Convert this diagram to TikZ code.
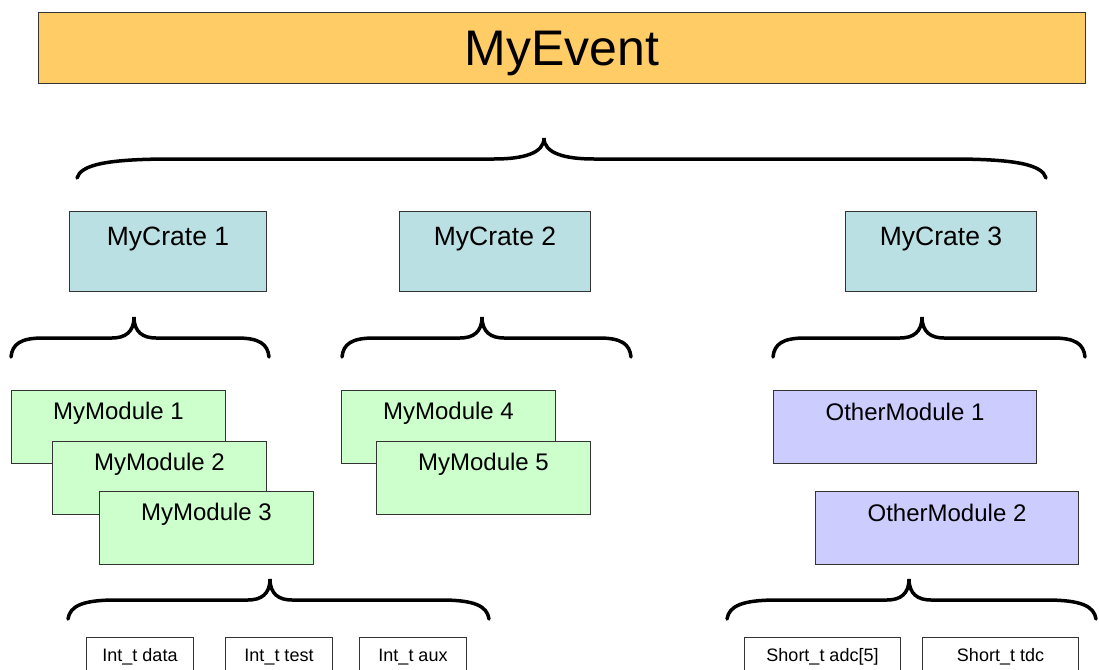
\documentclass[tikz,border=0pt]{standalone}
\usepackage{fontspec}
\setmainfont{Liberation Sans}
\usepackage{xcolor}
\usepackage{tikz}
\definecolor{eventorange}{HTML}{FFCC66}
\definecolor{cratecyan}{HTML}{BBE0E3}
\definecolor{modgreen}{HTML}{CCFFCC}
\definecolor{modviolet}{HTML}{CCCCFF}
\tikzset{
  box/.style={rectangle, draw=black!80, line width=1pt, inner sep=0pt,
              anchor=north west, align=center},
  eventbox/.style={box, fill=eventorange, font=\fontsize{50}{50}\selectfont,
                   minimum width=1047pt, text height=53pt, text depth=18pt},
  cratebox/.style={box, fill=cratecyan, font=\fontsize{26.5}{26.5}\selectfont,
                   text height=34pt, text depth=46pt},
  modbox/.style={box, fill=modgreen, font=\fontsize{24}{24}\selectfont,
                 minimum width=214pt, text height=29pt, text depth=44pt},
  otherbox/.style={box, fill=modviolet, font=\fontsize{24}{24}\selectfont,
                   minimum width=263pt, text height=30pt, text depth=43pt},
  fieldbox/.style={box, fill=white, font=\fontsize{18}{18}\selectfont,
                   text height=24pt, text depth=26pt},
  brace/.style={draw=black, line width=3.5pt, line cap=round},
}
% #1 left end, #2 tip, #3 right end, #4 tip y, #5 end curl, #6 tip curl
\newcommand{\curlybrace}[6]{%
  \draw[brace] ({#1},{#4+40}) .. controls ({#1+0.04*#5},{#4+27}) and ({#1+0.3*#5},{#4+21}) .. ({#1+#5},{#4+21})
    -- ({#2-#6},{#4+21}) .. controls ({#2-0.4*#6},{#4+21}) and ({#2},{#4+15}) .. ({#2},{#4})
    .. controls ({#2},{#4+15}) and ({#2+0.4*#6},{#4+21}) .. ({#2+#6},{#4+21})
    -- ({#3-#5},{#4+21}) .. controls ({#3-0.3*#5},{#4+21}) and ({#3-0.04*#5},{#4+27}) .. ({#3},{#4+40});}

\begin{document}
\begin{tikzpicture}[x=1pt, y=-1pt]
  \useasboundingbox (0,0) rectangle (1099,669);
  \clip (0,0) rectangle (1099,669);

  % event
  \node[eventbox] (event) at (38,12) {MyEvent};
  \curlybrace{77}{544}{1046}{138}{95}{50}

  % crates
  \node[cratebox, minimum width=197pt] (crate1) at (69,211) {MyCrate 1};
  \node[cratebox, minimum width=191pt] (crate2) at (399,211) {MyCrate 2};
  \node[cratebox, minimum width=191pt] (crate3) at (845,211) {MyCrate 3};
  \curlybrace{11}{134}{269}{317}{32}{22}
  \curlybrace{342}{482}{631}{317}{32}{22}
  \curlybrace{773}{922}{1085}{317}{32}{22}

  % modules
  \node[modbox] (mod1) at (11,390) {MyModule 1};
  \node[modbox] (mod2) at (52,441) {MyModule 2};
  \node[modbox] (mod3) at (99,491) {MyModule 3};
  \node[modbox] (mod4) at (341,390) {MyModule 4};
  \node[modbox] (mod5) at (376,441) {MyModule 5};
  \node[otherbox] (other1) at (773,390) {OtherModule 1};
  \node[otherbox] (other2) at (815,491) {OtherModule 2};
  \curlybrace{68}{270}{489}{579}{48}{22}
  \curlybrace{727}{909}{1096}{579}{50}{22}

  % data members
  \node[fieldbox, minimum width=107pt] (data) at (86,637) {Int\_t data};
  \node[fieldbox, minimum width=107pt] (test) at (225,637) {Int\_t test};
  \node[fieldbox, minimum width=107pt] (aux) at (359,637) {Int\_t aux};
  \node[fieldbox, minimum width=156pt] (adc) at (744,637) {Short\_t adc[5]};
  \node[fieldbox, minimum width=156pt] (tdc) at (922,637) {Short\_t tdc};
\end{tikzpicture}
\end{document}
